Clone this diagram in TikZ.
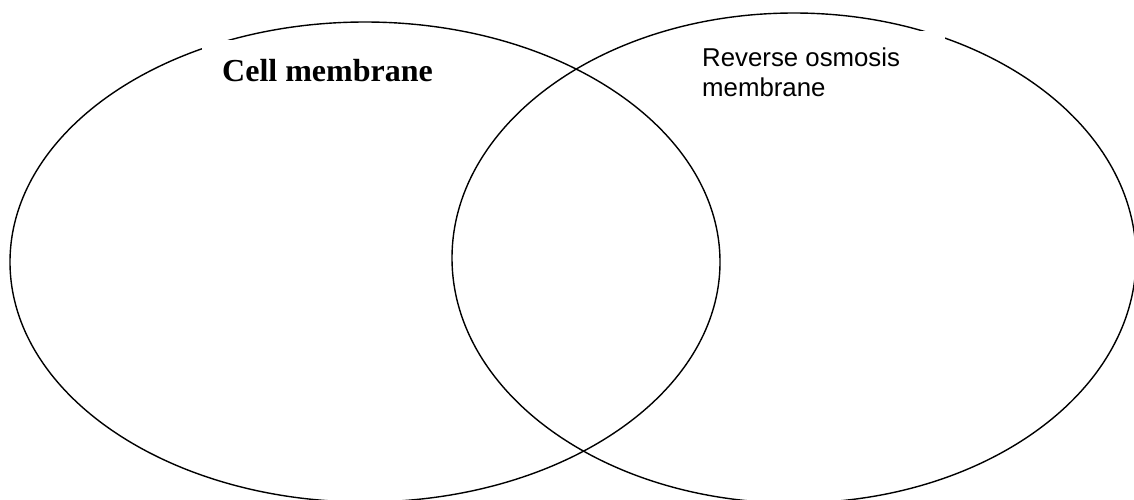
\documentclass[tikz,border=0pt]{standalone}
\usepackage{fontspec}
\setmainfont{Liberation Serif}
\newfontfamily\arialfont{Liberation Sans}
\begin{document}
\begin{tikzpicture}[x=1pt,y=-1pt,
  venn/.style={draw=black,line width=1.4pt},
  coverbox/.style={fill=white,draw=none},
  serlabel/.style={font=\fontsize{32}{36}\selectfont\bfseries,inner sep=0pt,anchor=base west},
  sanslabel/.style={font=\arialfont\fontsize{25.8}{30}\selectfont,inner sep=0pt,anchor=base west}]
\useasboundingbox (0,0) rectangle (1134,499);
\clip (0,0) rectangle (1134,499);
\fill[white] (0,0) rectangle (1134,499);
\draw[venn] (365,262) ellipse [x radius=355pt, y radius=240pt];
\draw[venn] (794,258) ellipse [x radius=342pt, y radius=245pt];
\fill[coverbox] (202,40) rectangle (480,100);
\fill[coverbox] (690,31) rectangle (945,110);
\node[serlabel] (cell) at (222,81) {Cell membrane};
\node[sanslabel] (ro1) at (702,66) {Reverse osmosis};
\node[sanslabel] (ro2) at (702,96) {membrane};
\end{tikzpicture}
\end{document}
